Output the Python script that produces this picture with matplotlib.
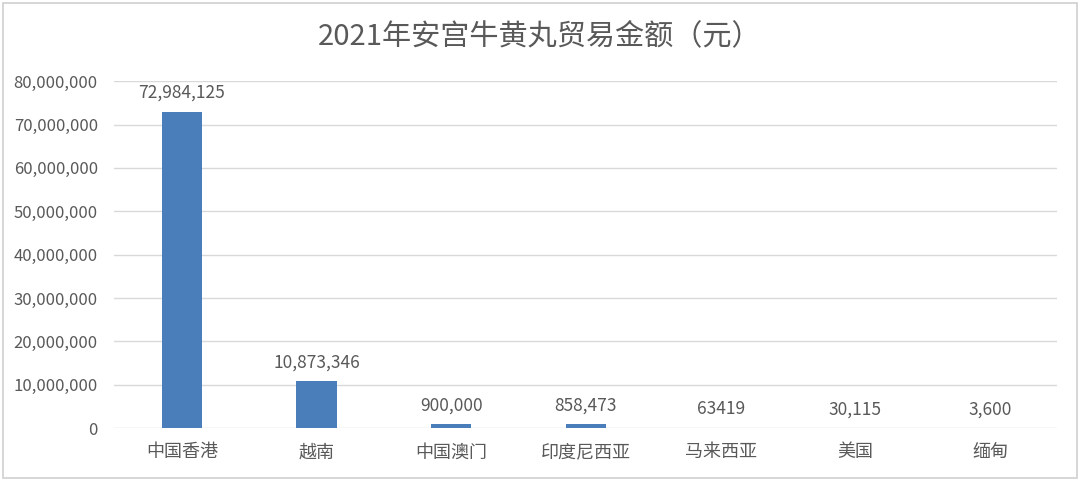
import matplotlib
matplotlib.use("Agg")
import matplotlib.pyplot as plt
from matplotlib.ticker import FuncFormatter, MultipleLocator
from matplotlib.patches import Rectangle

plt.rcParams['font.family'] = ['Noto Sans CJK SC', 'DejaVu Sans']

title = "2021年安宫牛黄丸贸易金额（元）"
categories = ["中国香港", "越南", "中国澳门", "印度尼西亚", "马来西亚", "美国", "缅甸"]
values = [72984125, 10873346, 900000, 858473, 63419, 30115, 3600]
value_labels = ["72,984,125", "10,873,346", "900,000", "858,473", "63419", "30,115", "3,600"]

text_color = "#595959"
bar_color = "#4a7ebb"
grid_color = "#d9d9d9"

fig = plt.figure(figsize=(10.8, 4.8), dpi=100)
fig.patches.append(Rectangle((0.003, 0.004), 0.994, 0.99, transform=fig.transFigure,
                             fill=False, edgecolor="#d0d0d0", linewidth=1.2))
ax = fig.add_axes([0.106, 0.108, 0.873, 0.723])

x = range(len(categories))
bars = ax.bar(x, values, width=0.3, color=bar_color, zorder=3)

for xi, v, lab in zip(x, values, value_labels):
    ax.annotate(lab, (xi, v), xytext=(0, 7), textcoords="offset points",
                ha="center", va="bottom", fontsize=12.5, color=text_color)

ax.set_xlim(-0.5, len(categories) - 0.5)
ax.set_ylim(0, 80000000)
ax.yaxis.set_major_locator(MultipleLocator(10000000))
ax.yaxis.set_major_formatter(FuncFormatter(lambda v, p: f"{int(v):,}"))
ax.set_xticks(list(x))
ax.set_xticklabels(categories, fontsize=13)
ax.tick_params(axis="both", length=0, colors=text_color)
ax.tick_params(axis="y", labelsize=12, pad=12)
ax.tick_params(axis="x", pad=11)
ax.grid(axis="y", color=grid_color, linewidth=1, zorder=0)
for s in ax.spines.values():
    s.set_visible(False)

fig.text(0.5, 0.925, title, ha="center", va="center", fontsize=21, color=text_color)

fig.savefig("out.png", dpi=100)
